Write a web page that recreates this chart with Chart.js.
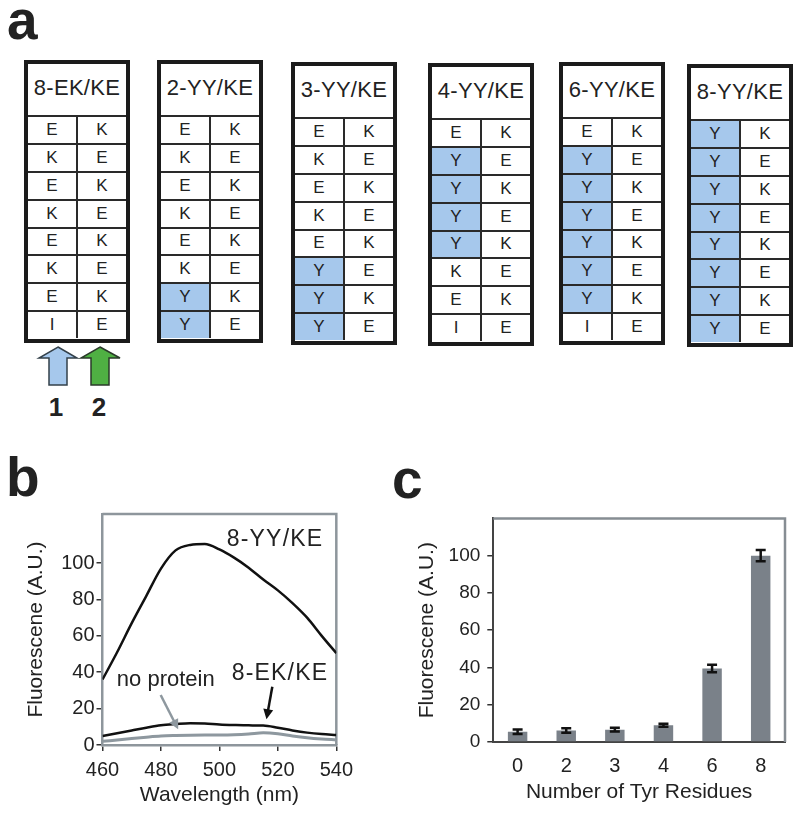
<!DOCTYPE html>
<html>
<head>
<meta charset="utf-8">
<script src="https://cdn.jsdelivr.net/npm/chart.js@4.4.1/dist/chart.umd.min.js"></script>
<style>
  body { margin: 0; width: 800px; height: 813px; position: relative; background: #fff; overflow: hidden;
         font-family: "Liberation Sans", Arial, Helvetica, sans-serif; color: #222; }
  .letter { position: absolute; font-weight: bold; font-size: 55px; line-height: 1; color: #222; }
  .box { position: absolute; width: 106px; height: 283px; border: 4.5px solid #1b1b1b; box-sizing: border-box; background: #fff; }
  .box .head { height: 51px; border-bottom: 2px solid #2a2a2a; text-align: center; font-size: 22px; line-height: 47px; letter-spacing: 0.3px; }
  .box .cells { display: grid; grid-template-columns: 1fr 1fr; grid-template-rows: repeat(8, 1fr); gap: 2px; background: #2a2a2a; height: 221px; }
  .cells div { background: #fff; display: flex; align-items: center; justify-content: center; font-size: 17px; }
  .cells div.tyr { background: #a6c8ec; }
  .strand { position: absolute; top: 394px; font-weight: bold; font-size: 26px; line-height: 1; width: 30px; text-align: center; }
  canvas { position: absolute; }
</style>
</head>
<body>
<div class="letter" style="left:7px; top:-7px;">a</div>
<div class="letter" style="left:6px; top:450px;">b</div>
<div class="letter" style="left:392px; top:452px;">c</div>

<div id="panelA"></div>
<svg style="position:absolute; left:0; top:0;" width="140" height="400">
  <polygon points="58,347 77,358 67,358 67,385 49,385 49,358 39,358" fill="#a6c8ec" stroke="#33404a" stroke-width="1.5"/>
  <polygon points="100,347 120,358 109,358 109,385 91,385 91,358 81,358" fill="#4fb043" stroke="#2a3a2a" stroke-width="1.5"/>
</svg>
<div class="strand" style="left:41px;">1</div>
<div class="strand" style="left:84px;">2</div>

<canvas id="spectrum" width="340" height="313" style="left:20px; top:500px;"></canvas>
<canvas id="tyrBars" width="390" height="313" style="left:410px; top:500px;"></canvas>

<script>
// panel a: peptide constructs, strand 1 (left column) and strand 2 (right column)
const constructs = ['8-EK/KE', '2-YY/KE', '3-YY/KE', '4-YY/KE', '6-YY/KE', '8-YY/KE'];
const strand1 = [
  ['E', 'K', 'E', 'K', 'E', 'K', 'E', 'I'],
  ['E', 'K', 'E', 'K', 'E', 'K', 'Y', 'Y'],
  ['E', 'K', 'E', 'K', 'E', 'Y', 'Y', 'Y'],
  ['E', 'Y', 'Y', 'Y', 'Y', 'K', 'E', 'I'],
  ['E', 'Y', 'Y', 'Y', 'Y', 'Y', 'Y', 'I'],
  ['Y', 'Y', 'Y', 'Y', 'Y', 'Y', 'Y', 'Y']
];
const strand2 = ['K', 'E', 'K', 'E', 'K', 'E', 'K', 'E'];

// panel b: emission spectra
const wavelengths = [460, 465, 470, 475, 480, 485, 490, 495, 500, 505, 510, 515, 520, 525, 530, 535, 540];
const yy8 = [36, 51, 67, 82, 97, 107, 110, 110.5, 107.5, 103, 97.5, 91, 85, 78, 70, 60, 50.5];
const ek8 = [5, 6.5, 8, 9.5, 10.8, 11.5, 12, 11.8, 11.3, 11, 10.8, 10.7, 9.5, 8, 6.8, 6, 5.5];
const noProtein = [2, 2.8, 3.6, 4.3, 4.9, 5.2, 5.4, 5.5, 5.5, 5.6, 6, 6.7, 6.2, 5, 4, 3.3, 2.8];

// panel c: fluorescence vs number of Tyr
const tyrCounts = ['0', '2', '3', '4', '6', '8'];
const tyrMeans = [5.5, 6.2, 6.6, 9, 39.5, 100];
const tyrErrors = [1.2, 1.2, 1.0, 0.8, 2.0, 3.0];

// build the sequence boxes
const boxLeft = [24, 157, 291, 428, 559, 687];
const boxTop = [60, 60, 62, 63, 62, 64];
const panelA = document.getElementById('panelA');
constructs.forEach((name, i) => {
  const box = document.createElement('div');
  box.className = 'box';
  box.style.left = boxLeft[i] + 'px';
  box.style.top = boxTop[i] + 'px';
  let html = '<div class="head">' + name + '</div><div class="cells">';
  for (let r = 0; r < 8; r++) {
    const a = strand1[i][r];
    html += '<div' + (a === 'Y' ? ' class="tyr"' : '') + '>' + a + '</div>';
    html += '<div>' + strand2[r] + '</div>';
  }
  box.innerHTML = html + '</div>';
  panelA.appendChild(box);
});

const fontFam = '"Liberation Sans", Arial, Helvetica, sans-serif';
const textCol = '#222';

// gray frame on top and right of the plot area
const framePlugin = {
  id: 'frame',
  beforeDatasetsDraw(chart, args, opts) {
    const a = chart.chartArea, ctx = chart.ctx;
    ctx.save();
    ctx.strokeStyle = opts.color;
    ctx.lineWidth = opts.width;
    ctx.beginPath();
    ctx.moveTo(a.left, a.top);
    ctx.lineTo(a.right, a.top);
    ctx.lineTo(a.right, a.bottom);
    ctx.stroke();
    ctx.restore();
  }
};

// text labels and arrows for the spectra, placed in data units
const notesPlugin = {
  id: 'notes',
  afterDatasetsDraw(chart) {
    const ctx = chart.ctx, x = chart.scales.x, y = chart.scales.y;
    ctx.save();
    ctx.fillStyle = textCol;
    ctx.textBaseline = 'middle';
    ctx.textAlign = 'left';
    ctx.font = '23px ' + fontFam;
    ctx.letterSpacing = '1.2px';
    ctx.fillText('8-YY/KE', x.getPixelForValue(502.5), y.getPixelForValue(112.8));
    ctx.fillText('8-EK/KE', x.getPixelForValue(504.2), y.getPixelForValue(39));
    ctx.letterSpacing = '0px';
    ctx.font = '22px ' + fontFam;
    ctx.fillText('no protein', x.getPixelForValue(464.9), y.getPixelForValue(35.5));

    function arrow(x1, y1, x2, y2, color) {
      const px1 = x.getPixelForValue(x1), py1 = y.getPixelForValue(y1);
      const px2 = x.getPixelForValue(x2), py2 = y.getPixelForValue(y2);
      const ang = Math.atan2(py2 - py1, px2 - px1);
      ctx.strokeStyle = color;
      ctx.fillStyle = color;
      ctx.lineWidth = 2.5;
      ctx.beginPath();
      ctx.moveTo(px1, py1);
      ctx.lineTo(px2 - 6 * Math.cos(ang), py2 - 6 * Math.sin(ang));
      ctx.stroke();
      ctx.beginPath();
      ctx.moveTo(px2, py2);
      ctx.lineTo(px2 - 10 * Math.cos(ang) + 5 * Math.sin(ang), py2 - 10 * Math.sin(ang) - 5 * Math.cos(ang));
      ctx.lineTo(px2 - 10 * Math.cos(ang) - 5 * Math.sin(ang), py2 - 10 * Math.sin(ang) + 5 * Math.cos(ang));
      ctx.closePath();
      ctx.fill();
    }
    arrow(479.9, 27.5, 485.9, 8.6, '#8e989f');
    arrow(518.1, 32, 516.1, 14.2, '#111');
    ctx.restore();
  }
};

// error bars for panel c
const errorPlugin = {
  id: 'errors',
  afterDatasetsDraw(chart) {
    const ctx = chart.ctx, y = chart.scales.y;
    const meta = chart.getDatasetMeta(0);
    ctx.save();
    ctx.strokeStyle = '#111';
    ctx.lineWidth = 2.5;
    meta.data.forEach((bar, i) => {
      const top = y.getPixelForValue(tyrMeans[i] + tyrErrors[i]);
      const bot = y.getPixelForValue(tyrMeans[i] - tyrErrors[i]);
      ctx.beginPath();
      ctx.moveTo(bar.x, top); ctx.lineTo(bar.x, bot);
      ctx.moveTo(bar.x - 5, top); ctx.lineTo(bar.x + 5, top);
      ctx.moveTo(bar.x - 5, bot); ctx.lineTo(bar.x + 5, bot);
      ctx.stroke();
    });
    ctx.restore();
  }
};

function pts(vals) {
  return wavelengths.map((w, i) => ({ x: w, y: vals[i] }));
}

new Chart(document.getElementById('spectrum'), {
  type: 'line',
  data: {
    datasets: [
      { label: 'no protein', data: pts(noProtein), borderColor: '#8e989f', borderWidth: 3 },
      { label: '8-EK/KE', data: pts(ek8), borderColor: '#111', borderWidth: 2.5 },
      { label: '8-YY/KE', data: pts(yy8), borderColor: '#111', borderWidth: 2.5 }
    ]
  },
  options: {
    responsive: false,
    animation: false,
    devicePixelRatio: 1,
    layout: { padding: { top: 13, right: 20, left: 0, bottom: 0 } },
    elements: { point: { radius: 0 }, line: { tension: 0.4, cubicInterpolationMode: 'monotone' } },
    plugins: { legend: { display: false }, tooltip: { enabled: false }, frame: { color: '#8e969c', width: 2.5 } },
    scales: {
      x: {
        type: 'linear', min: 460, max: 540,
        ticks: { stepSize: 20, color: textCol, padding: 7, font: { family: fontFam, size: 20 } },
        grid: { drawOnChartArea: false, tickLength: 6, color: '#333', lineWidth: 1.5 },
        border: { color: '#8e969c', width: 2.5 },
        title: { display: true, text: 'Wavelength (nm)', color: textCol, font: { family: fontFam, size: 21 }, padding: { top: 0, bottom: 5 } },
        afterFit(s) { s.height = 68; }
      },
      y: {
        min: 0, max: 127,
        ticks: { stepSize: 20, color: textCol, padding: 2, font: { family: fontFam, size: 20 } },
        afterBuildTicks(s) { s.ticks = s.ticks.filter(t => t.value <= 100); },
        grid: { drawOnChartArea: false, tickLength: 6, color: '#333', lineWidth: 1.5 },
        border: { color: '#8e969c', width: 2.5 },
        title: { display: true, text: 'Fluorescene (A.U.)', color: textCol, font: { family: fontFam, size: 21 }, padding: { top: 4, bottom: 0 } },
        afterFit(s) { s.width = 82.5; }
      }
    }
  },
  plugins: [framePlugin, notesPlugin]
});

new Chart(document.getElementById('tyrBars'), {
  type: 'bar',
  data: {
    labels: tyrCounts,
    datasets: [{ label: 'Fluorescence', data: tyrMeans, backgroundColor: '#7a8189', barPercentage: 0.4, categoryPercentage: 1 }]
  },
  options: {
    responsive: false,
    animation: false,
    devicePixelRatio: 1,
    layout: { padding: { top: 15, right: 15, left: 0, bottom: 0 } },
    plugins: { legend: { display: false }, tooltip: { enabled: false }, frame: { color: '#868d93', width: 2.5 } },
    scales: {
      x: {
        ticks: { color: textCol, padding: 4, font: { family: fontFam, size: 20 } },
        grid: { display: false },
        border: { color: '#444', width: 2 },
        title: { display: true, text: 'Number of Tyr Residues', color: textCol, font: { family: fontFam, size: 21 }, padding: { top: 0, bottom: 8 } },
        afterFit(s) { s.height = 71; }
      },
      y: {
        min: 0, max: 120,
        ticks: { stepSize: 20, color: textCol, padding: 7, font: { family: fontFam, size: 19 } },
        afterBuildTicks(s) { s.ticks = s.ticks.filter(t => t.value <= 100); },
        grid: { drawOnChartArea: false, tickLength: 6, color: '#333', lineWidth: 1.5 },
        border: { color: '#444', width: 2 },
        title: { display: true, text: 'Fluorescene (A.U.)', color: textCol, font: { family: fontFam, size: 21 }, padding: { top: 5, bottom: 0 } },
        afterFit(s) { s.width = 83.3; }
      }
    }
  },
  plugins: [framePlugin, errorPlugin]
});
</script>
</body>
</html>
